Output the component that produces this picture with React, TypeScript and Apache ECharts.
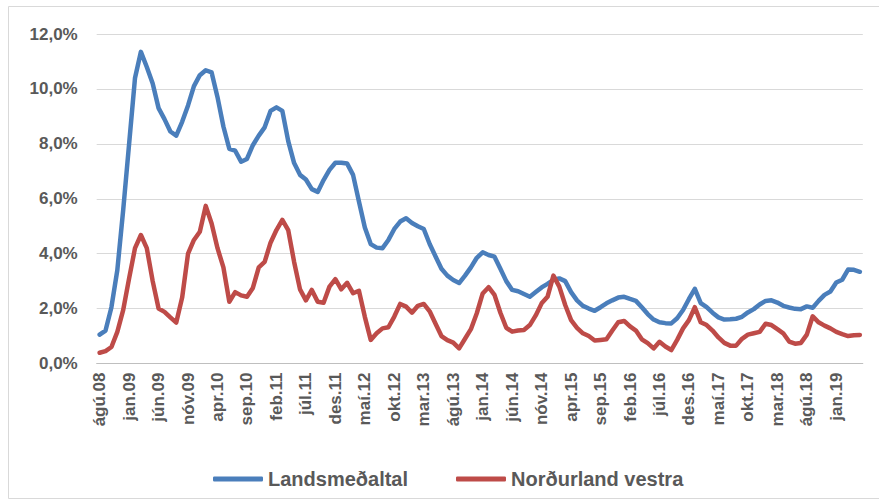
import React, { useEffect, useRef } from "react";
import * as echarts from "echarts";

const monthNames = ["jan", "feb", "mar", "apr", "maí", "jún", "júl", "ágú", "sep", "okt", "nóv", "des"];
const startYear = 2008;
const startMonth = 7; // ágú
const monthCount = 130;

const categories: string[] = [];
for (let k = 0; k < monthCount; k++) {
  const m = (startMonth + k) % 12;
  const y = startYear + Math.floor((startMonth + k) / 12);
  categories.push(monthNames[m] + "." + String(y % 100).padStart(2, "0"));
}

const landsmedaltal = [
  1.05, 1.2, 2.05, 3.4, 5.6, 8.0, 10.4, 11.35, 10.8, 10.2,
  9.3, 8.9, 8.45, 8.3, 8.8, 9.4, 10.1, 10.5, 10.68, 10.6,
  9.7, 8.63, 7.82, 7.75, 7.35, 7.45, 7.95, 8.3, 8.6, 9.2,
  9.33, 9.2, 8.1, 7.3, 6.87, 6.7, 6.35, 6.25, 6.68, 7.05,
  7.31, 7.31, 7.28, 6.87, 5.9, 4.95, 4.35, 4.22, 4.2, 4.5,
  4.9, 5.17, 5.29, 5.12, 5.0, 4.9, 4.35, 3.9, 3.45, 3.2,
  3.04, 2.93, 3.2, 3.5, 3.85, 4.05, 3.95, 3.89, 3.45, 3.0,
  2.68, 2.63, 2.53, 2.43, 2.6, 2.77, 2.9, 3.05, 3.1, 3.0,
  2.6, 2.3, 2.1, 2.0, 1.92, 2.05, 2.19, 2.3, 2.4, 2.43,
  2.35, 2.28, 2.05, 1.8, 1.6, 1.5, 1.47, 1.46, 1.65, 1.95,
  2.35, 2.72, 2.2, 2.05, 1.85, 1.68, 1.6, 1.61, 1.63, 1.7,
  1.86, 1.98, 2.15, 2.28, 2.3, 2.22, 2.1, 2.04, 1.99, 1.98,
  2.08, 2.03, 2.28, 2.5, 2.62, 2.95, 3.05, 3.42, 3.41, 3.34,
];

const nordurlandVestra = [
  0.39, 0.45, 0.6, 1.15, 1.95, 3.1, 4.2, 4.68, 4.2, 3.0,
  2.0, 1.88, 1.68, 1.49, 2.4, 4.0, 4.5, 4.8, 5.74, 5.1,
  4.2, 3.5, 2.25, 2.6, 2.48, 2.43, 2.75, 3.5, 3.7, 4.4,
  4.86, 5.23, 4.86, 3.7, 2.7, 2.3, 2.68, 2.25, 2.21, 2.8,
  3.07, 2.7, 2.94, 2.56, 2.65, 1.7, 0.86, 1.1, 1.28, 1.32,
  1.71, 2.17, 2.07, 1.85, 2.1, 2.17, 1.9, 1.45, 1.0, 0.85,
  0.76, 0.55, 0.9, 1.25, 1.83, 2.55, 2.78, 2.5, 1.85, 1.3,
  1.16, 1.2, 1.22, 1.4, 1.75, 2.19, 2.43, 3.2, 2.8, 2.13,
  1.58, 1.3, 1.1, 1.0, 0.84, 0.86, 0.88, 1.2, 1.5, 1.55,
  1.35, 1.2, 0.88, 0.74, 0.55, 0.79, 0.62, 0.49, 0.86, 1.28,
  1.58, 2.05, 1.5, 1.4, 1.2, 0.95, 0.75, 0.65, 0.65, 0.9,
  1.05, 1.1, 1.15, 1.45, 1.4, 1.25, 1.1, 0.8, 0.72, 0.75,
  1.05, 1.72, 1.5, 1.38, 1.28, 1.15, 1.07, 1.0, 1.03, 1.04,
];

const seriesNames = ["Landsmeðaltal", "Norðurland vestra"];
const colors = ["#4A7EBB", "#BE4B48"];

export default function App() {
  const ref = useRef<HTMLDivElement>(null);
  useEffect(() => {
    if (!ref.current) return;
    const chart = echarts.init(ref.current, undefined, { renderer: "svg" });
    const font = "'Liberation Sans', Arial, sans-serif";
    chart.setOption({
      animation: false,
      backgroundColor: "#ffffff",
      graphic: [
        {
          type: "rect",
          shape: { x: 8.5, y: 6.5, width: 880, height: 492 },
          style: { fill: "none", stroke: "#d9d9d9", lineWidth: 1 },
          silent: true,
        },
      ],
      grid: { left: 96.7, right: 16.2, top: 34, bottom: 139.5, containLabel: false },
      legend: [
        {
          data: [seriesNames[0]],
          left: 208,
          top: 464,
          icon: "roundRect",
          itemWidth: 50,
          itemHeight: 5,
          textStyle: { fontSize: 20, fontWeight: "bold", color: "#595959", fontFamily: font },
        },
        {
          data: [seriesNames[1]],
          left: 451,
          top: 464,
          icon: "roundRect",
          itemWidth: 50,
          itemHeight: 5,
          textStyle: { fontSize: 20, fontWeight: "bold", color: "#595959", fontFamily: font },
        },
      ],
      xAxis: {
        type: "category",
        data: categories,
        boundaryGap: true,
        axisLine: { lineStyle: { color: "#bfbfbf", width: 1 } },
        axisTick: { interval: 4, length: 6, lineStyle: { color: "#bfbfbf" } },
        axisLabel: {
          interval: 4,
          rotate: 90,
          margin: 9,
          fontSize: 17,
          fontWeight: "bold",
          color: "#595959",
          fontFamily: font,
        },
        splitLine: { show: false },
      },
      yAxis: {
        type: "value",
        min: 0,
        max: 12,
        interval: 2,
        axisLine: { show: false },
        axisTick: { show: false },
        axisLabel: {
          margin: 19,
          fontSize: 17,
          fontWeight: "bold",
          color: "#595959",
          fontFamily: font,
          formatter: (v: number) => v.toFixed(1).replace(".", ",") + "%",
        },
        splitLine: { lineStyle: { color: "#d9d9d9", width: 1 } },
      },
      series: [
        {
          name: seriesNames[0],
          type: "line",
          data: landsmedaltal,
          symbol: "none",
          color: colors[0],
          lineStyle: { width: 4.5, color: colors[0], cap: "round", join: "round" },
        },
        {
          name: seriesNames[1],
          type: "line",
          data: nordurlandVestra,
          symbol: "none",
          color: colors[1],
          lineStyle: { width: 4.5, color: colors[1], cap: "round", join: "round" },
        },
      ],
    });
    return () => chart.dispose();
  }, []);
  return (
    <div
      ref={ref}
      style={{ position: "fixed", left: 0, top: 0, width: 879, height: 503 }}
    />
  );
}
